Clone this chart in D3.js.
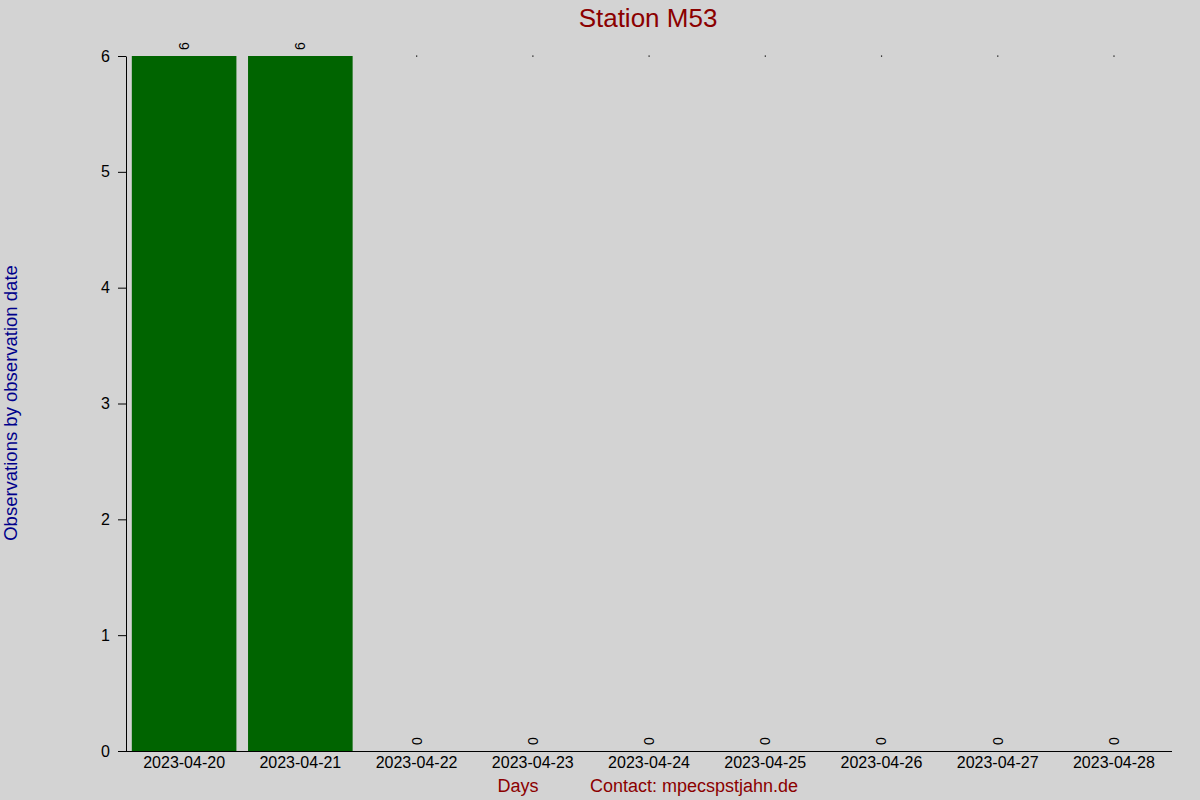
<!DOCTYPE html>
<html>
<head>
<meta charset="utf-8">
<script src="https://cdn.jsdelivr.net/npm/d3@7"></script>
<style>
  body { margin: 0; background: #d3d3d3; }
  svg { display: block; font-family: "Liberation Sans", Arial, sans-serif; }
</style>
</head>
<body>
<script>
// chart data
var days = ['2023-04-20', '2023-04-21', '2023-04-22', '2023-04-23', '2023-04-24',
            '2023-04-25', '2023-04-26', '2023-04-27', '2023-04-28'];
var counts = [6, 6, 0, 0, 0, 0, 0, 0, 0];
var yTicks = [0, 1, 2, 3, 4, 5, 6];

var width = 1200, height = 800;
var mLeft = 126, mRight = 1172, mTop = 56, mBottom = 751;

var svg = d3.select('body').append('svg')
    .attr('width', width)
    .attr('height', height);

svg.append('rect')
    .attr('width', width).attr('height', height)
    .attr('fill', '#d3d3d3');

var x = d3.scaleBand()
    .domain(days)
    .range([mLeft, mRight])
    .paddingInner(0.1)
    .paddingOuter(0.05);

var y = d3.scaleLinear()
    .domain([0, 6])
    .range([mBottom, mTop]);

// bars
svg.selectAll('rect.bar')
    .data(days)
    .enter()
    .append('rect')
    .attr('class', 'bar')
    .attr('x', d => x(d))
    .attr('width', x.bandwidth())
    .attr('y', (d, i) => y(counts[i]))
    .attr('height', (d, i) => mBottom - y(counts[i]))
    .attr('fill', '#006400');

// tiny marks at the top for empty days
svg.selectAll('rect.dot')
    .data(days.filter((d, i) => counts[i] === 0))
    .enter()
    .append('rect')
    .attr('class', 'dot')
    .attr('x', d => x(d) + x.bandwidth() / 2 - 0.5)
    .attr('y', y(6) - 0.5)
    .attr('width', 1.2).attr('height', 1.2)
    .attr('fill', '#000');

// value labels, rotated
svg.selectAll('text.val')
    .data(days)
    .enter()
    .append('text')
    .attr('class', 'val')
    .attr('transform', (d, i) => 'translate(' + (x(d) + x.bandwidth() / 2 + 5) + ',' + (y(counts[i]) - 6) + ') rotate(-90)')
    .attr('font-size', 14)
    .attr('fill', '#000')
    .text((d, i) => counts[i]);

// y axis
var yAxis = svg.append('g')
    .attr('transform', 'translate(' + mLeft + ',0)')
    .call(d3.axisLeft(y).tickValues(yTicks).tickFormat(d3.format('d'))
        .tickSize(8).tickSizeOuter(0).tickPadding(8));
yAxis.selectAll('text').attr('font-size', 16).attr('font-family', '"Liberation Sans", Arial, sans-serif').attr('fill', '#000');
yAxis.selectAll('line, path').attr('stroke', '#000');

// x axis
var xAxis = svg.append('g')
    .attr('transform', 'translate(0,' + mBottom + ')')
    .call(d3.axisBottom(x).tickSize(0).tickSizeOuter(0).tickPadding(6));
xAxis.select('path.domain').attr('d', 'M' + (mLeft - 8) + ',0.5H' + mRight).attr('stroke', '#000');
xAxis.selectAll('text').attr('font-size', 16).attr('font-family', '"Liberation Sans", Arial, sans-serif').attr('fill', '#000');

// titles
svg.append('text')
    .attr('x', 648).attr('y', 27)
    .attr('text-anchor', 'middle')
    .attr('font-size', 26)
    .attr('fill', '#8b0000')
    .text('Station M53');

svg.append('text')
    .attr('transform', 'translate(17,403) rotate(-90)')
    .attr('text-anchor', 'middle')
    .attr('font-size', 18.5)
    .attr('fill', '#00008b')
    .text('Observations by observation date');

svg.append('text')
    .attr('x', 518).attr('y', 792)
    .attr('text-anchor', 'middle')
    .attr('font-size', 18)
    .attr('fill', '#8b0000')
    .text('Days');

svg.append('text')
    .attr('x', 590).attr('y', 792)
    .attr('font-size', 18)
    .attr('fill', '#8b0000')
    .text('Contact: mpecspstjahn.de');
</script>
</body>
</html>
